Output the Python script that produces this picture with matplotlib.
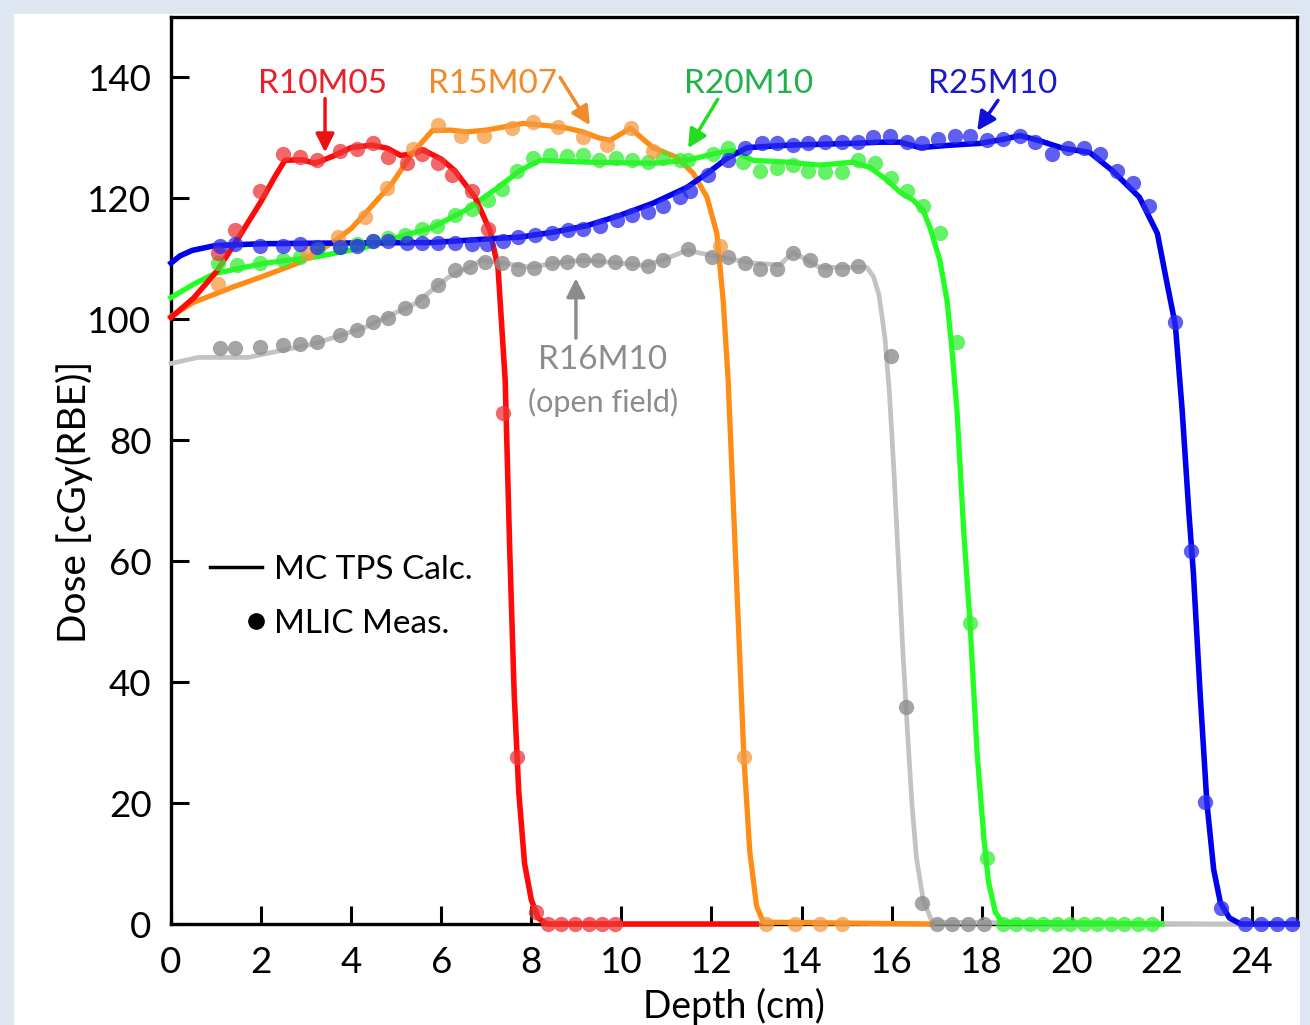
import matplotlib
matplotlib.use("Agg")
import matplotlib.pyplot as plt
from matplotlib.lines import Line2D
from matplotlib.patches import Rectangle
from matplotlib.legend_handler import HandlerLine2D

plt.rcParams['font.family'] = ['Lato', 'DejaVu Sans']

# ---- MC TPS calculated curves (solid lines) ----
red_line_x = [0, 0.5, 1.0, 1.5, 2.0, 2.3, 2.53, 2.9, 3.2, 3.6, 4.0, 4.46, 4.8, 5.1, 5.3, 5.6, 6.0, 6.3,
              6.75, 7.08, 7.26, 7.42, 7.52, 7.62, 7.72, 7.85, 8.0, 8.15, 8.35, 13.0]
red_line_y = [100.3, 103.5, 107.8, 113.5, 119.5, 123.5, 126.3, 126.4, 125.8, 127.0, 128.4, 128.8, 128.3,
              127.1, 127.3, 128.0, 126.5, 124.6, 120.2, 114.7, 108.6, 89.9, 62, 38, 22, 10, 4, 1, 0, 0]

orange_line_x = [0, 0.5, 1.36, 2.0, 2.82, 3.57, 4.0, 4.31, 4.91, 5.35, 5.8, 6.2, 6.57, 7.0, 7.3, 7.82, 8.4,
                 8.8, 9.15, 9.5, 9.75, 10.2, 10.7, 11.23, 11.6, 11.9, 12.12, 12.26, 12.37, 12.55, 12.72,
                 12.85, 13.0, 13.15, 16.9]
orange_line_y = [100.5, 102.8, 105.3, 107.0, 109.3, 112.6, 115.0, 117.5, 122.5, 127.4, 131.2, 131.3, 131.0,
                 131.3, 131.7, 132.4, 132.0, 131.6, 131.0, 130.0, 129.6, 131.6, 128.4, 126.8, 124.1, 120.2,
                 114.2, 103.1, 89.9, 58, 27.6, 12, 3, 0.3, 0]

green_line_x = [0, 0.5, 0.98, 2.09, 3.2, 4.31, 5.04, 5.8, 6.53, 7.26, 7.75, 8.19, 9.24, 10.7, 11.45, 12.19,
                12.48, 12.92, 13.68, 14.4, 15.14, 15.52, 15.9, 16.19, 16.48, 16.7, 16.85, 17.07, 17.23,
                17.34, 17.45, 17.6, 17.74, 17.9, 18.05, 18.15, 18.3, 18.45, 22.0]
green_line_y = [103.6, 105.8, 107.6, 109.3, 110.3, 111.9, 113.6, 115.2, 118.0, 121.8, 124.6, 126.3, 126.0,
                125.8, 126.3, 127.6, 127.9, 126.3, 126.0, 125.5, 126.0, 125.1, 123.0, 121.0, 119.7, 118.0,
                115.2, 109.8, 103.1, 94.9, 85, 65, 49.8, 28, 14, 7, 2, 0.3, 0]

blue_line_x = [0, 0.2, 0.47, 0.98, 2.0, 3.32, 5.8, 7.26, 7.75, 8.48, 9.24, 9.97, 10.7, 11.45, 11.9, 12.34,
               12.79, 13.68, 15.14, 15.74, 16.19, 16.63, 17.3, 17.96, 18.5, 18.85, 19.3, 19.8, 20.4, 20.9,
               21.5, 21.9, 22.1, 22.3, 22.45, 22.6, 22.7, 22.85, 23.0, 23.15, 23.3, 23.5, 23.75, 25.0]
blue_line_y = [109.3, 110.5, 111.4, 112.2, 112.5, 112.6, 112.7, 113.4, 113.6, 114.4, 115.5, 117.2, 119.2,
               121.8, 124.1, 126.6, 128.4, 128.8, 129.1, 129.3, 129.3, 128.4, 128.8, 129.1, 129.8, 130.4,
               129.5, 128.3, 127.6, 124.6, 120.2, 114.2, 106.5, 99.0, 85, 68, 58, 38, 20, 9, 3.5, 1, 0, 0]

gray_line_x = [0, 0.6, 1.71, 3.2, 4.31, 5.42, 6.15, 6.6, 6.9, 7.35, 8.0, 8.5, 9.15, 9.8, 10.5, 10.92, 11.45,
               12.19, 12.92, 13.52, 13.81, 14.4, 15.45, 15.6, 15.72, 15.85, 15.95, 16.05, 16.15, 16.25,
               16.35, 16.45, 16.55, 16.7, 16.9, 23.8]
gray_line_y = [92.7, 93.7, 93.7, 96.0, 98.7, 102.6, 106.9, 108.6, 109.8, 109.3, 108.6, 109.3, 109.8, 109.4,
               108.9, 109.8, 111.4, 110.3, 109.3, 109.0, 111.1, 108.6, 108.6, 107, 104, 97, 88, 75, 60, 45,
               32, 20, 11, 4, 0.3, 0]

# ---- MLIC measurements (dots) ----
red_meas_x = [1.04, 1.42, 1.98, 2.49, 2.86, 3.24, 3.75, 4.13, 4.48, 4.82, 5.24, 5.57, 5.93, 6.24, 6.68,
              7.04, 7.37, 7.68, 8.1, 8.37, 8.67, 8.97, 9.27, 9.57, 9.86]
red_meas_y = [110.9, 114.7, 121.3, 127.4, 126.8, 126.3, 127.9, 128.2, 129.1, 126.8, 125.8, 127.4, 125.8,
              123.8, 121.3, 115.0, 84.5, 27.6, 2.0, 0, 0, 0, 0, 0, 0]

orange_meas_x = [1.04, 3.04, 3.7, 4.31, 4.8, 5.37, 5.93, 6.44, 6.95, 7.57, 8.04, 8.6, 9.14, 9.69, 10.21,
                 10.7, 12.19, 12.72, 13.2, 13.85, 14.4, 14.9]
orange_meas_y = [105.8, 110.9, 113.6, 116.9, 121.7, 128.2, 132.1, 130.4, 130.4, 131.6, 132.7, 131.8, 130.1,
                 128.9, 131.6, 127.9, 112.2, 27.6, 0, 0, 0, 0]

green_meas_x = [1.04, 1.47, 1.98, 2.49, 2.86, 3.27, 3.75, 4.13, 4.48, 4.82, 5.2, 5.57, 5.9, 6.3, 6.68, 7.04,
                7.35, 7.68, 8.04, 8.42, 8.79, 9.14, 9.5, 9.88, 10.24, 10.58, 10.92, 11.3, 11.48, 12.03,
                12.37, 12.7, 13.08, 13.45, 13.81, 14.14, 14.52, 14.9, 15.25, 15.63, 15.98, 16.34, 16.7,
                17.07, 17.45, 17.74, 18.12, 18.47, 18.77, 19.07, 19.37, 19.67, 19.97, 20.27, 20.57, 20.87,
                21.17, 21.47, 21.77]
green_meas_y = [109.3, 109.0, 109.3, 109.8, 110.3, 111.7, 112.0, 112.5, 113.0, 113.5, 113.9, 115.0, 115.5,
                117.2, 118.3, 119.7, 121.6, 124.6, 126.6, 127.2, 127.0, 127.2, 126.3, 126.6, 126.3, 126.0,
                126.6, 126.3, 126.3, 127.4, 128.3, 126.0, 124.6, 125.1, 125.5, 124.6, 124.3, 124.3, 126.3,
                125.8, 123.3, 121.3, 118.8, 114.2, 96.2, 49.8, 10.9, 0, 0, 0, 0, 0, 0, 0, 0, 0, 0, 0, 0]

blue_meas_x = [1.09, 1.42, 1.98, 2.49, 2.86, 3.24, 3.75, 4.13, 4.48, 4.82, 5.24, 5.57, 5.93, 6.3, 6.68,
               7.02, 7.37, 7.7, 8.08, 8.46, 8.81, 9.15, 9.52, 9.9, 10.23, 10.59, 10.92, 11.3, 11.52, 11.92,
               12.37, 12.74, 13.12, 13.45, 13.81, 14.14, 14.52, 14.9, 15.25, 15.59, 15.96, 16.34, 16.67,
               17.03, 17.41, 17.74, 18.12, 18.47, 18.85, 19.18, 19.56, 19.92, 20.27, 20.63, 21.0, 21.36,
               21.71, 22.3, 22.65, 22.95, 23.32, 23.85, 24.2, 24.55, 24.9]
blue_meas_y = [112.2, 112.5, 112.2, 112.2, 112.5, 112.0, 112.0, 112.2, 113.0, 113.0, 112.7, 112.7, 112.7,
               112.7, 112.5, 112.5, 113.0, 113.6, 113.9, 114.2, 114.7, 115.0, 115.5, 116.4, 117.2, 117.7,
               118.8, 120.2, 121.3, 123.8, 126.3, 128.4, 129.1, 129.1, 128.8, 129.1, 129.3, 129.3, 129.3,
               130.1, 130.4, 129.3, 129.1, 129.9, 130.4, 130.4, 129.6, 129.9, 130.4, 129.3, 127.4, 128.4,
               128.4, 127.4, 124.6, 122.5, 118.8, 99.5, 61.7, 20.2, 2.6, 0, 0, 0, 0]

gray_meas_x = [1.09, 1.42, 1.98, 2.49, 2.86, 3.24, 3.75, 4.13, 4.48, 4.82, 5.2, 5.57, 5.93, 6.3, 6.64, 6.97,
               7.35, 7.7, 8.06, 8.46, 8.79, 9.15, 9.48, 9.86, 10.23, 10.59, 10.92, 11.48, 12.01, 12.37,
               12.74, 13.08, 13.45, 13.81, 14.19, 14.52, 14.9, 15.25, 15.98, 16.32, 16.67, 17.0, 17.35,
               17.7, 18.05]
gray_meas_y = [95.2, 95.2, 95.4, 95.7, 96.0, 96.2, 97.4, 98.2, 99.5, 100.3, 101.8, 103.1, 105.6, 108.1,
               108.6, 109.4, 109.3, 108.4, 108.5, 109.3, 109.4, 109.8, 109.8, 109.4, 109.3, 108.9, 109.8,
               111.7, 110.3, 110.3, 109.3, 108.4, 108.4, 110.9, 109.8, 108.1, 108.4, 108.9, 94.0, 35.9,
               3.5, 0, 0, 0, 0]

# label, text position, arrow tail, arrow head, text colour
labels = ['R10M05', 'R15M07', 'R20M10', 'R25M10']
label_pos = [(3.37, 139.0), (7.15, 139.0), (12.83, 139.0), (18.25, 139.0)]
arrow_tail = [(3.42, 136.5), (8.64, 140.0), (12.14, 136.4), (18.36, 136.2)]
arrow_head = [(3.42, 127.6), (9.3, 132.1), (11.48, 128.3), (17.9, 131.2)]
label_colors = ['#e8202a', '#f08a2a', '#22b04a', '#1a1ac8']
arrow_colors = ['#ee1111', '#f08a2a', '#22dd22', '#1010dd']

fig = plt.figure(figsize=(13.10, 10.25), dpi=100)
fig.patch.set_facecolor('#dde6f1')
fig.patches.append(Rectangle((14 / 1310, 0), (1300 - 14) / 1310, 1 - 14 / 1025,
                             transform=fig.transFigure, facecolor='white', edgecolor='none', zorder=-10))
ax = fig.add_axes([171 / 1310, 1 - 924 / 1025, (1297 - 171) / 1310, (924 - 17) / 1025])
ax.set_facecolor('white')

ms = 11
ax.plot(gray_line_x, gray_line_y, color='#c3c3c3', lw=3.4, zorder=3, clip_on=False)
ax.plot(gray_meas_x, gray_meas_y, 'o', color='#8e8e8e', ms=ms, alpha=0.8, mew=0, zorder=4, clip_on=False)
ax.plot(green_line_x, green_line_y, color='#22ff22', lw=3.8, zorder=3.1, clip_on=False)
ax.plot(green_meas_x, green_meas_y, 'o', color='#33ee33', ms=ms, alpha=0.75, mew=0, zorder=4.1, clip_on=False)
ax.plot(orange_line_x, orange_line_y, color='#ff8c14', lw=3.8, zorder=3.2, clip_on=False)
ax.plot(orange_meas_x, orange_meas_y, 'o', color='#f59a40', ms=ms, alpha=0.75, mew=0, zorder=4.2, clip_on=False)
ax.plot(red_line_x, red_line_y, color='#ff0a0a', lw=4.0, zorder=3.3, clip_on=False)
ax.plot(red_meas_x, red_meas_y, 'o', color='#ee3535', ms=ms, alpha=0.75, mew=0, zorder=4.3, clip_on=False)
ax.plot(blue_line_x, blue_line_y, color='#0000ee', lw=4.0, zorder=3.4, clip_on=False)
ax.plot(blue_meas_x, blue_meas_y, 'o', color='#2a2aee', ms=ms, alpha=0.75, mew=0, zorder=4.4, clip_on=False)

for lab, pos, tail, head, tc, ac in zip(labels, label_pos, arrow_tail, arrow_head, label_colors, arrow_colors):
    ax.text(pos[0], pos[1], lab, color=tc, fontsize=24, ha='center', va='center', zorder=6)
    ax.annotate('', xy=head, xytext=tail,
                arrowprops=dict(arrowstyle='-|>', color=ac, lw=2.5, mutation_scale=28,
                                shrinkA=0, shrinkB=0), zorder=6)

ax.text(9.59, 93.2, 'R16M10', color='#8c8c8c', fontsize=24, ha='center', va='center')
ax.text(9.59, 86.3, '(open field)', color='#8c8c8c', fontsize=22, ha='center', va='center')
ax.annotate('', xy=(8.99, 106.8), xytext=(8.99, 96.9),
            arrowprops=dict(arrowstyle='-|>', color='#8c8c8c', lw=2.5, mutation_scale=28,
                            shrinkA=0, shrinkB=0))


class RightDot(HandlerLine2D):
    # single marker sits in the middle of the returned span -> push it to the right end
    def get_xdata(self, legend, xdescent, ydescent, width, height, fontsize):
        xd = [-xdescent + width * 0.76, -xdescent + width]
        return xd, xd


calc = Line2D([], [], color='black', lw=2.5)
meas = Line2D([], [], color='black', marker='o', ms=11, ls='none')
ax.legend([calc, meas], ['MC TPS Calc.', 'MLIC Meas.'], loc='center left',
          bbox_to_anchor=(0.87, 54.1), bbox_transform=ax.transData,
          frameon=False, fontsize=24, handlelength=1.55, handletextpad=0.35,
          borderpad=0, borderaxespad=0, labelspacing=0.72,
          handler_map={meas: RightDot()})

ax.set_xlim(0, 25)
ax.set_ylim(0, 150)
ax.set_xticks(range(0, 25, 2))
ax.set_yticks(range(0, 141, 20))
ax.tick_params(direction='in', length=13, width=2.2, labelsize=26.5, top=False, right=False)
ax.tick_params(axis='y', pad=14)
ax.tick_params(axis='x', pad=16)
for s in ax.spines.values():
    s.set_linewidth(2.4)
ax.set_xlabel('Depth (cm)', fontsize=27)
ax.set_ylabel('Dose [cGy(RBE)]', fontsize=28)
ax.xaxis.set_label_coords(0.5, -0.07)
ax.yaxis.set_label_coords(-0.069, 0.465)

fig.savefig('out.png', dpi=100, facecolor=fig.get_facecolor())
